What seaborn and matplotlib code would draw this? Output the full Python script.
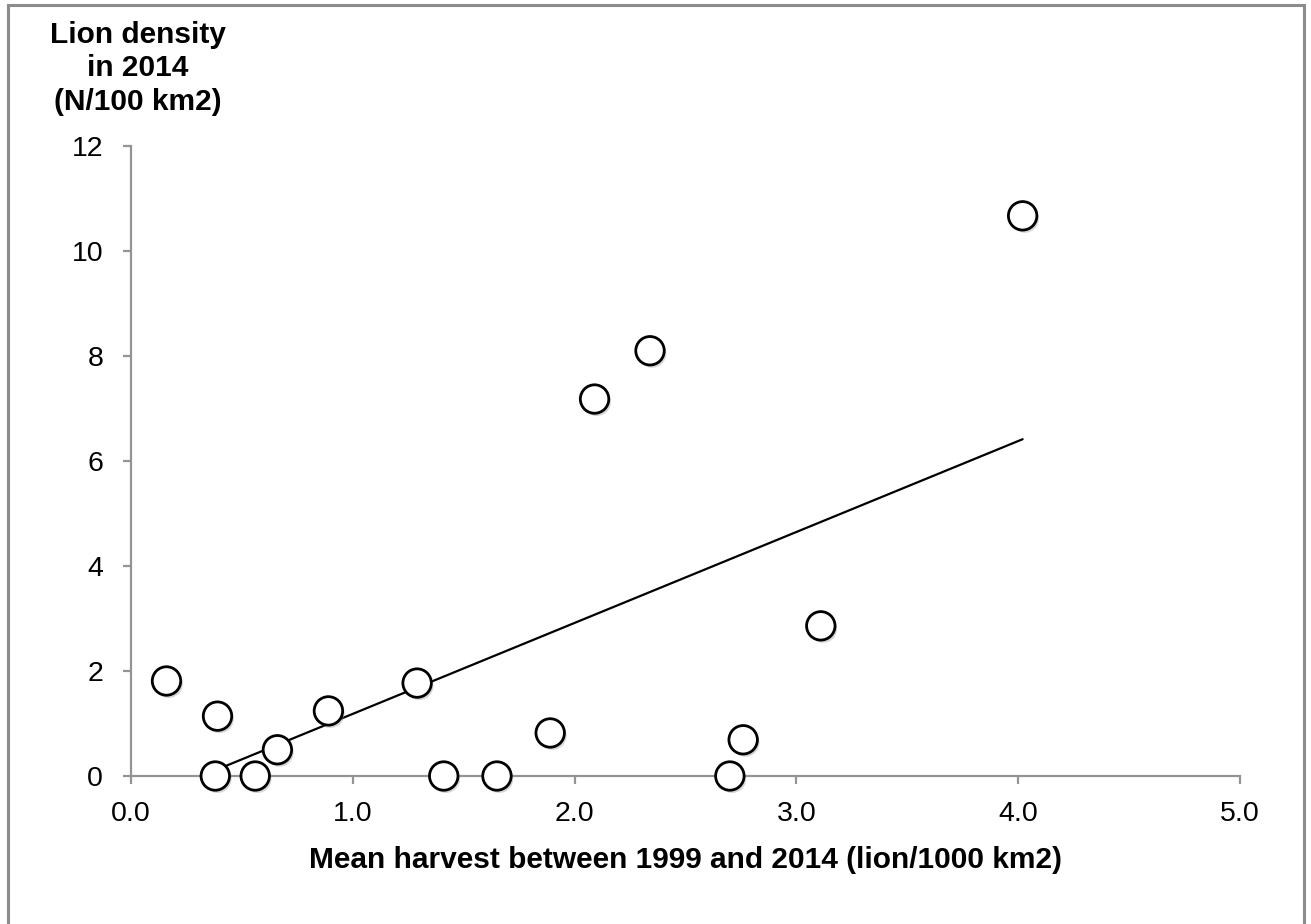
import numpy as np
import pandas as pd
import matplotlib
matplotlib.use('Agg')
import matplotlib.pyplot as plt
import matplotlib.patheffects as pe
from matplotlib.patches import Rectangle
import seaborn as sns

# harvest (lion/1000 km2) vs lion density (N/100 km2)
harvest = [0.16, 0.39, 0.38, 0.56, 0.66, 0.89, 1.29, 1.41, 1.65, 1.89,
           2.09, 2.34, 2.70, 2.76, 3.11, 4.02]
density = [1.81, 1.14, 0.0, 0.0, 0.50, 1.24, 1.77, 0.0, 0.0, 0.82,
           7.18, 8.10, 0.0, 0.69, 2.86, 10.67]
x_ticks = [0.0, 1.0, 2.0, 3.0, 4.0, 5.0]
y_ticks = [0, 2, 4, 6, 8, 10, 12]

df = pd.DataFrame({'harvest': harvest, 'density': density})

sns.set_style('white')
plt.rcParams['font.family'] = ['Liberation Sans', 'DejaVu Sans']
plt.rcParams['axes.labelcolor'] = 'black'
plt.rcParams['text.color'] = 'black'

fig = plt.figure(figsize=(13.11, 9.24), dpi=100)
ax = fig.add_axes([131 / 1311, 1 - 776 / 924, 1109 / 1311, 630 / 924])

# linear trend line, clipped by the y=0 floor like the original
sns.regplot(data=df, x='harvest', y='density', scatter=False, ci=None,
            truncate=True, color='black', line_kws={'lw': 1.6, 'zorder': 2}, ax=ax)
sns.scatterplot(data=df, x='harvest', y='density', s=420, color='white',
                edgecolor='black', linewidth=2.0, clip_on=False, zorder=3, ax=ax,
                path_effects=[pe.SimplePatchShadow(offset=(1.5, -2), shadow_rgbFace='0.55', alpha=0.35),
                              pe.Normal()])

ax.set_xlim(0, 5)
ax.set_ylim(0, 12)
ax.set_xticks(x_ticks)
ax.set_xticklabels([f'{t:.1f}' for t in x_ticks])
ax.set_yticks(y_ticks)
ax.set_yticklabels([str(t) for t in y_ticks])
for side in ['top', 'right']:
    ax.spines[side].set_visible(False)
for side in ['left', 'bottom']:
    ax.spines[side].set_color('#949494')
    ax.spines[side].set_linewidth(1.6)
ax.tick_params(axis='both', which='major', direction='out', length=6, width=1.6,
               color='#949494', labelsize=20.5, labelcolor='black')
ax.tick_params(axis='x', bottom=True, pad=12)
ax.tick_params(axis='y', left=True, pad=14)

ax.set_xlabel('Mean harvest between 1999 and 2014 (lion/1000 km2)',
              fontsize=21.5, fontweight='bold', color='black', labelpad=14)
ax.set_ylabel('Lion density\nin 2014\n(N/100 km2)', fontsize=21.5, fontweight='bold', color='black',
              rotation=0, ha='center', va='bottom', multialignment='center', linespacing=1.25)
ax.yaxis.set_label_coords(0.006, 1.048)

# chart area border (open at the bottom, as in the original crop)
fig.patches.append(Rectangle((8 / 1311, -0.05), 1296 / 1311, 1.05 - 5 / 924,
                             transform=fig.transFigure, fill=False,
                             edgecolor='#8c8c8c', linewidth=2.2))

fig.savefig('out.png', dpi=100)
